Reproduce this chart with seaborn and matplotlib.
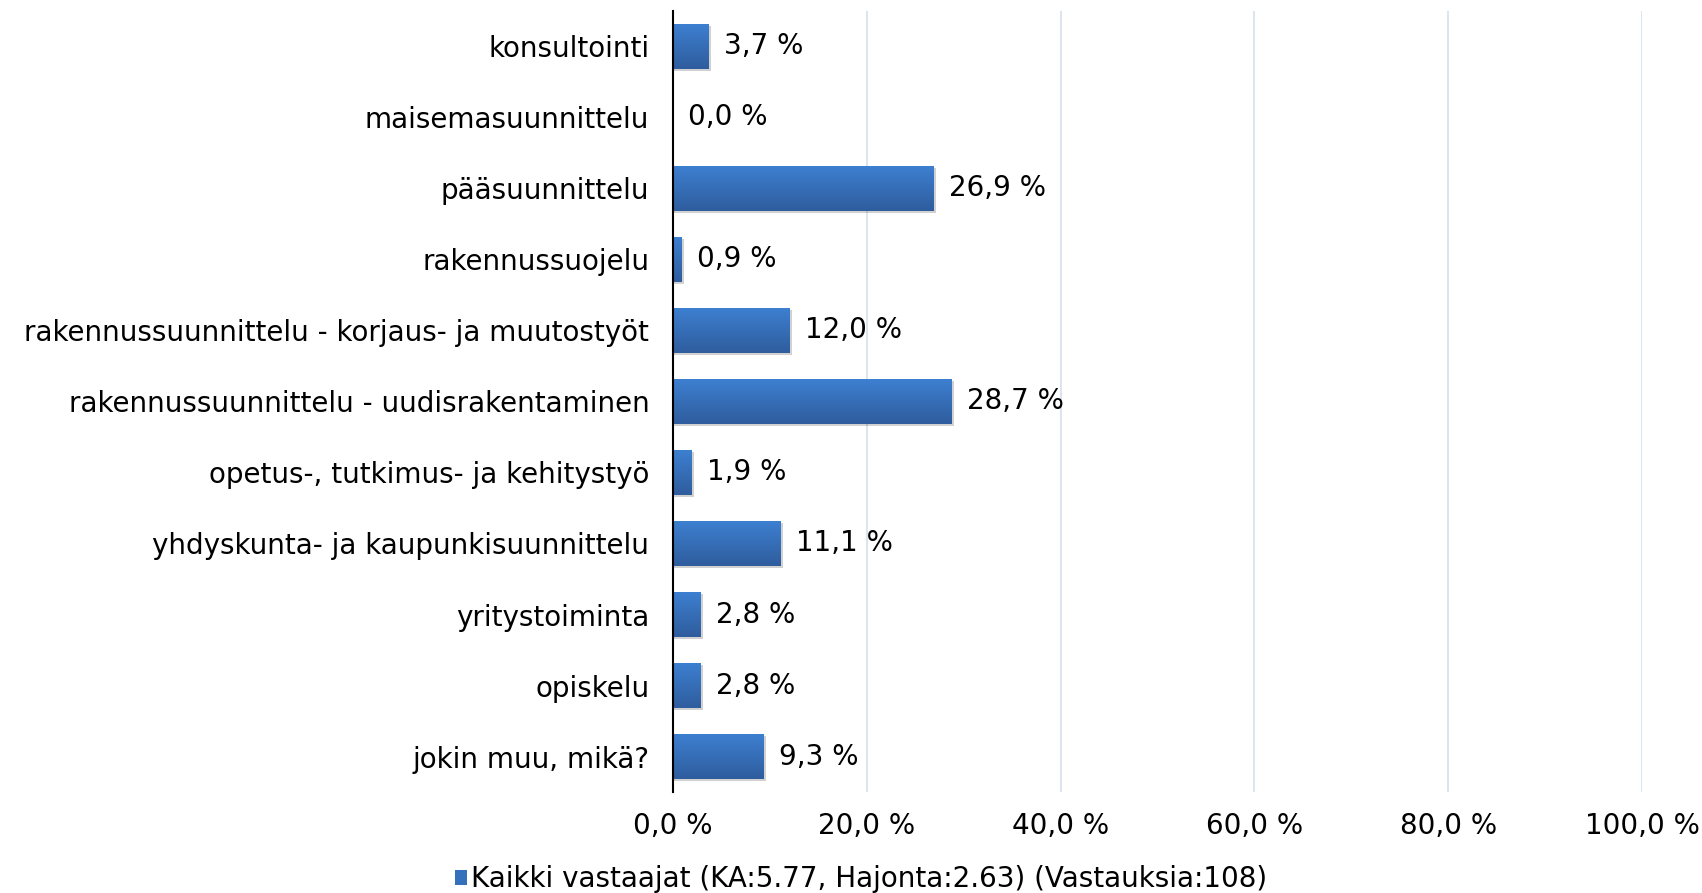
import matplotlib
matplotlib.use("Agg")
import matplotlib.pyplot as plt
import seaborn as sns
import numpy as np
import pandas as pd
from matplotlib.colors import LinearSegmentedColormap
from matplotlib.patches import Rectangle

# data
categories = [
    "konsultointi",
    "maisemasuunnittelu",
    "pääsuunnittelu",
    "rakennussuojelu",
    "rakennussuunnittelu - korjaus- ja muutostyöt",
    "rakennussuunnittelu - uudisrakentaminen",
    "opetus-, tutkimus- ja kehitystyö",
    "yhdyskunta- ja kaupunkisuunnittelu",
    "yritystoiminta",
    "opiskelu",
    "jokin muu, mikä?",
]
values = [3.7, 0.0, 26.9, 0.9, 12.0, 28.7, 1.9, 11.1, 2.8, 2.8, 9.3]
x_ticks = [0, 20, 40, 60, 80, 100]
legend_label = "Kaikki vastaajat (KA:5.77, Hajonta:2.63) (Vastauksia:108)"

df = pd.DataFrame({"category": categories, "value": values})

sns.set_theme(style="white")
plt.rcParams["font.family"] = ["DejaVu Sans"]
plt.rcParams["text.color"] = "black"
FS = 20

fig = plt.figure(figsize=(17.02, 8.93), dpi=100)
ax = fig.add_axes([0.3954, 0.113, 0.5694, 0.875])

sns.barplot(data=df, y="category", x="value", orient="h", color="#3470bb",
            width=0.63, ax=ax, zorder=3)

# gradient fill + soft shadow on each bar
grad = LinearSegmentedColormap.from_list("bar", ["#3d7fd0", "#2f5d9e"])
for patch in ax.patches:
    x0, y0 = patch.get_x(), patch.get_y()
    w, h = patch.get_width(), patch.get_height()
    if w <= 0:
        patch.set_visible(False)
        continue
    shadow = Rectangle((x0, y0 + 0.03), w + 0.25, h, facecolor="#000000",
                       alpha=0.18, edgecolor="none", zorder=2)
    ax.add_patch(shadow)
    patch.set_edgecolor("none")
    img = ax.imshow(np.linspace(0, 1, 64).reshape(-1, 1), cmap=grad,
                    aspect="auto", extent=(x0, x0 + w, y0 + h, y0),
                    zorder=3, interpolation="bicubic")
    img.set_clip_path(patch)

ax.set_xlim(0, 100)
ax.set_ylim(len(categories) - 0.5, -0.5)
ax.set_xticks(x_ticks)
ax.set_xticklabels([f"{t:.1f} %".replace(".", ",") for t in x_ticks])
ax.xaxis.grid(True, color="#d5dfeb", linewidth=1.2, zorder=0)
ax.set_axisbelow(True)
ax.set_xlabel("")
ax.set_ylabel("")

for side in ["top", "right", "bottom"]:
    ax.spines[side].set_visible(False)
ax.spines["left"].set_color("black")
ax.spines["left"].set_linewidth(1.5)
ax.spines["left"].set_zorder(5)

ax.tick_params(axis="y", length=0, pad=17, labelsize=FS)
ax.tick_params(axis="x", length=0, pad=14, labelsize=FS)
for lab in ax.get_yticklabels() + ax.get_xticklabels():
    lab.set_color("black")

for i, v in enumerate(values):
    ax.text(v + 1.6, i, f"{v:.1f} %".replace(".", ","), va="center",
            ha="left", fontsize=FS, color="black")

handle = Rectangle((0, 0), 1, 1, facecolor="#3470bb", edgecolor="none")
leg = fig.legend([handle], [legend_label], loc="center",
                 bbox_to_anchor=(0.506, 14 / 893), frameon=False, fontsize=FS,
                 handlelength=0.45, handleheight=0.45, handletextpad=0.15)
for t in leg.get_texts():
    t.set_color("black")

fig.savefig("out.png", dpi=100)
